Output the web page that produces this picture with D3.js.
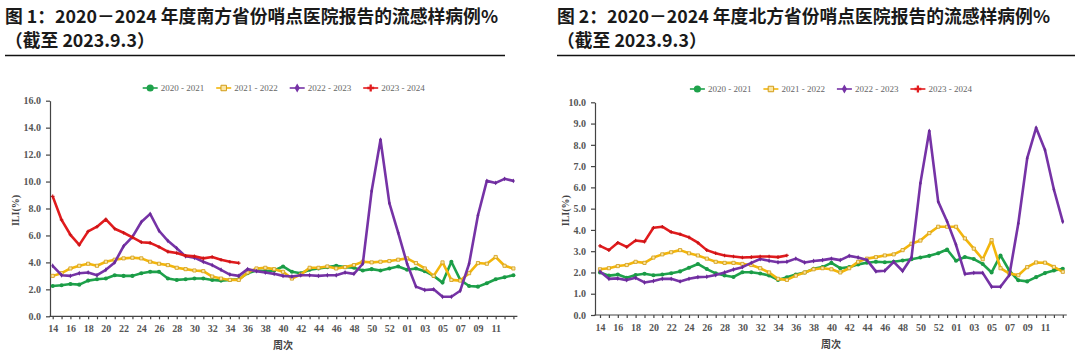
<!DOCTYPE html>
<html>
<head>
<meta charset="utf-8">
<script src="https://cdn.jsdelivr.net/npm/d3@7"></script>
<style>
  body { margin: 0; background: #fff; }
  svg { display: block; }
  .title { font-family: "Noto Sans CJK SC", sans-serif; font-weight: 700; font-size: 17.8px; fill: #1a1a1a; }
  .axis .tick text { font-family: "Liberation Serif", serif; font-weight: bold; font-size: 10px; fill: #555; }
  .axis path, .axis line { stroke: #444; stroke-width: 1.2; }
  .ylabel { font-family: "Liberation Serif", serif; font-weight: bold; font-size: 10px; fill: #444; }
  .xlabel { font-family: "Noto Sans CJK SC", sans-serif; font-weight: 700; font-size: 10px; fill: #444; }
  .legend text { font-family: "Liberation Serif", serif; font-size: 9px; fill: #666; }
</style>
</head>
<body>
<svg width="1080" height="361"></svg>
<script>
// weeks 14..53, then 01..13
var weeks = ["14","15","16","17","18","19","20","21","22","23","24","25","26","27","28","29","30",
  "31","32","33","34","35","36","37","38","39","40","41","42","43","44","45","46","47","48","49",
  "50","51","52","53","01","02","03","04","05","06","07","08","09","10","11","12","13"];

var seasons = ["2020 - 2021", "2021 - 2022", "2022 - 2023", "2023 - 2024"];

// south
var south2020 = [2.25, 2.3, 2.4, 2.35, 2.65, 2.75, 2.8, 3.05, 3.0, 3.0, 3.2, 3.3, 3.3, 2.8, 2.7, 2.75, 2.8, 2.8,
  2.7, 2.65, 2.7, 2.75, 3.2, 3.4,
  3.35, 3.4, 3.7, 3.3, 3.2, 3.45, 3.55, 3.65, 3.75, 3.65, 3.6,
  3.4, 3.5, 3.4, 3.55, 3.7, 3.45, 3.55, 3.35, 3.0, 2.5, 4.05, 2.7, 2.25, 2.2, 2.45, 2.75, 2.9, 3.05];
var south2021 = [3.0, 3.2, 3.55, 3.75, 3.9, 3.75, 4.05, 4.2, 4.3, 4.35, 4.3, 4.05, 3.9, 3.8, 3.6, 3.5, 3.4, 3.35,
  2.95, 2.8, 2.7, 2.7, 3.25, 3.55, 3.6, 3.5, 3.3, 2.8, 3.1, 3.6, 3.6, 3.7, 3.55, 3.65, 3.8,
  4.05, 4.0, 4.05, 4.1, 4.2, 4.3, 3.95, 3.55, 3.0, 4.0, 2.7, 2.65, 3.2, 3.95, 3.9, 4.4, 3.75, 3.55];
var south2022 = [3.75, 3.05, 3.0, 3.2, 3.25, 3.05, 3.45, 4.0, 5.2, 5.9, 7.0, 7.6, 6.35, 5.6, 5.05, 4.45, 4.35, 4.05,
  3.8, 3.45, 3.1, 3.0, 3.5, 3.35, 3.25, 3.15, 3.0, 2.95, 3.05, 3.05, 3.0, 3.05, 3.05, 3.25, 3.15,
  3.9, 9.3, 13.1, 8.4, 6.2, 3.9, 2.2, 1.95, 2.0, 1.45, 1.45, 1.9, 3.9, 7.5, 10.05, 9.9, 10.2, 10.05];
var south2023 = [8.9, 7.15, 6.05, 5.3, 6.3, 6.65, 7.2, 6.5, 6.2, 5.85, 5.5, 5.45, 5.15, 4.8, 4.7, 4.5, 4.45,
  4.3, 4.4, 4.2, 4.05, 3.95];

// north
var north2020 = [2.0, 1.85, 1.9, 1.75, 1.88, 1.94, 1.87, 1.9, 1.96, 2.05, 2.22, 2.4, 2.16, 1.96, 1.86, 1.79, 2.01,
  2.01, 1.95, 1.86, 1.65, 1.77, 1.9, 2.0, 2.17, 2.25, 2.45, 2.2, 2.25, 2.38, 2.46, 2.5, 2.48, 2.5, 2.56,
  2.62, 2.7, 2.78, 2.9, 3.08, 2.55, 2.73, 2.63, 2.4, 2.0, 2.8, 2.08, 1.63, 1.58, 1.78, 1.97, 2.09, 2.17];
var north2021 = [2.15, 2.2, 2.3, 2.35, 2.5, 2.45, 2.7, 2.85, 2.95, 3.05, 2.9, 2.8, 2.65, 2.5, 2.45, 2.45, 2.4,
  2.35, 2.2, 2.0, 1.7, 1.65, 1.85, 2.0, 2.15, 2.2, 2.15, 2.0, 2.2, 2.5, 2.65, 2.72, 2.8, 2.85, 3.05,
  3.35, 3.5, 3.85, 4.15, 4.15, 4.15, 3.6, 3.12, 2.62, 3.52, 2.2, 1.95, 1.87, 2.25, 2.47, 2.46, 2.26, 2.03];
var north2022 = [2.05, 1.7, 1.72, 1.64, 1.75, 1.53, 1.6, 1.7, 1.7, 1.58, 1.7, 1.78, 1.8, 1.88, 2.0, 2.14, 2.25,
  2.45, 2.63, 2.55, 2.48, 2.5, 2.65, 2.47, 2.54, 2.58, 2.65, 2.58, 2.78, 2.7, 2.58, 2.05, 2.08, 2.5, 2.07,
  2.7, 6.2, 8.65, 5.33, 4.4, 3.3, 1.93, 1.98, 1.98, 1.33, 1.33, 1.88, 4.3, 7.37, 8.8, 7.76, 5.9, 4.38];
var north2023 = [3.25, 3.05, 3.4, 3.2, 3.5, 3.45, 4.1, 4.15, 3.9, 3.8, 3.65, 3.4, 3.05, 2.9, 2.8, 2.75, 2.7,
  2.72, 2.75, 2.75, 2.72, 2.8];

var styles = [
  { color: "#1ea24b", symbol: d3.symbolCircle, size: 13, fill: "#1a9a45", stroke: "none", legendSize: 40 },
  { color: "#f3b60c", symbol: d3.symbolSquare, size: 10, fill: "#fbe6a4", stroke: "#d29c18", legendSize: 30 },
  { color: "#7633a6", symbol: d3.symbolDiamond, size: 7, fill: "#6a2a98", stroke: "none", legendSize: 24 },
  { color: "#e11b1d", symbol: d3.symbolCross, size: 7, fill: "#c81417", stroke: "none", legendSize: 26 }
];

var svg = d3.select("svg");

function drawTitle(x, lines, lineEnd) {
  var t = svg.append("text").attr("class", "title");
  t.append("tspan").attr("x", x).attr("y", 23).text(lines[0]);
  t.append("tspan").attr("x", x).attr("y", 47).text(lines[1]);
  svg.append("line")
    .attr("x1", x).attr("x2", lineEnd)
    .attr("y1", 55.5).attr("y2", 55.5)
    .attr("stroke", "#111").attr("stroke-width", 1.6);
}

function drawPanel(p, data) {
  var g = svg.append("g");

  var x = d3.scalePoint().domain(weeks).range([p.first, p.last]);
  var y = d3.scaleLinear().domain([0, p.yMax]).range([p.bottom, p.top]);

  g.append("g")
    .attr("class", "axis")
    .attr("transform", "translate(" + p.left + ",0)")
    .call(d3.axisLeft(y)
      .tickValues(d3.range(0, p.yMax + p.yStep / 2, p.yStep))
      .tickFormat(d3.format(".1f"))
      .tickSize(4)
      .tickSizeOuter(0)
      .tickPadding(5));

  var xAxis = g.append("g")
    .attr("class", "axis")
    .attr("transform", "translate(0," + p.bottom + ")")
    .call(d3.axisBottom(x)
      .tickSize(3)
      .tickSizeOuter(0)
      .tickPadding(6)
      .tickFormat(function(d, i) { return (i % 2 == 0 && i < weeks.length - 1) ? d : ""; }));
  xAxis.select(".domain").remove();
  xAxis.append("line")
    .attr("x1", p.left - 0.6).attr("x2", p.last + 4)
    .attr("y1", 0).attr("y2", 0);

  var line = d3.line()
    .x(function(d, i) { return x(weeks[i]); })
    .y(function(d) { return y(d); });

  data.forEach(function(values, k) {
    var s = styles[k];
    g.append("path")
      .datum(values)
      .attr("fill", "none")
      .attr("stroke", s.color)
      .attr("stroke-width", 2.6)
      .attr("stroke-linejoin", "round")
      .attr("d", line);

    g.selectAll(".pt" + k)
      .data(values)
      .enter().append("path")
      .attr("class", "pt" + k)
      .attr("transform", function(d, i) { return "translate(" + x(weeks[i]) + "," + y(d) + ")"; })
      .attr("d", d3.symbol().type(s.symbol).size(s.size))
      .attr("fill", s.fill)
      .attr("stroke", s.stroke)
      .attr("stroke-width", 0.8);
  });

  g.append("text")
    .attr("class", "ylabel")
    .attr("transform", "translate(" + p.yLabelX + "," + ((p.top + p.bottom) / 2 + 2) + ") rotate(-90)")
    .attr("text-anchor", "middle")
    .attr("dy", "0.35em")
    .text("ILI(%)");

  g.append("text")
    .attr("class", "xlabel")
    .attr("x", p.xLabelX)
    .attr("y", p.bottom + 33)
    .attr("text-anchor", "middle")
    .text("周次");

  // legend, centred over the plot
  var legend = g.append("g").attr("class", "legend");
  var cursor = 0;
  seasons.forEach(function(name, k) {
    var s = styles[k];
    var item = legend.append("g").attr("transform", "translate(" + cursor + ",0)");
    item.append("line")
      .attr("x1", 0).attr("x2", 15)
      .attr("stroke", s.color).attr("stroke-width", 1.6);
    item.append("path")
      .attr("transform", "translate(7.5,0)")
      .attr("d", d3.symbol().type(s.symbol).size(s.legendSize))
      .attr("fill", k == 1 ? s.fill : s.color)
      .attr("stroke", s.stroke)
      .attr("stroke-width", 1);
    var label = item.append("text")
      .attr("x", 18)
      .attr("dy", "0.33em")
      .text(name);
    cursor += 18 + label.node().getComputedTextLength() + 12;
  });
  var width = cursor - 12;
  legend.attr("transform", "translate(" + ((p.left + p.last + 4) / 2 - width / 2) + "," + p.legendY + ")");
}

drawTitle(5, ["图 1：2020－2024 年度南方省份哨点医院报告的流感样病例%", "（截至 2023.9.3）"], 505);
drawTitle(557, ["图 2：2020－2024 年度北方省份哨点医院报告的流感样病例%", "（截至 2023.9.3）"], 1075);

drawPanel({
  left: 50, first: 52.7, last: 513.4, top: 100.7, bottom: 316.3,
  yMax: 16, yStep: 2, yLabelX: 15, xLabelX: 283, legendY: 88
}, [south2020, south2021, south2022, south2023]);

drawPanel({
  left: 595, first: 600, last: 1062.8, top: 102.3, bottom: 315,
  yMax: 10, yStep: 1, yLabelX: 565, xLabelX: 831, legendY: 89
}, [north2020, north2021, north2022, north2023]);
</script>
</body>
</html>
